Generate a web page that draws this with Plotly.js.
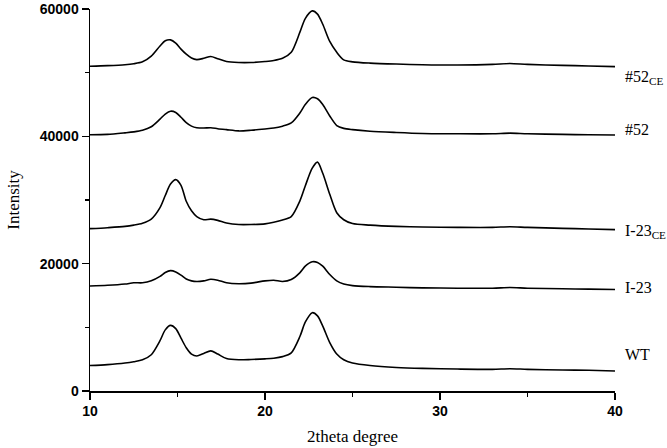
<!DOCTYPE html>
<html>
<head>
<meta charset="utf-8">
<script src="https://cdn.plot.ly/plotly-3.0.1.min.js"></script>
<style>
  html, body { margin: 0; padding: 0; background: #fff; }
  #chart { width: 667px; height: 448px; }
</style>
</head>
<body>
<div id="chart"></div>
<script>
// 2theta positions shared by every pattern
const twoTheta = [10, 11, 12, 12.5, 13, 13.5, 14, 14.3, 14.6, 14.9, 15.2, 15.5, 15.8, 16.1, 16.5, 16.9,
  17.3, 17.8, 18.5, 19.2, 20, 20.5, 21, 21.5, 22, 22.3, 22.7, 23.0, 23.3, 23.7, 24.1, 24.5, 25, 26,
  27.5, 29, 31, 33, 34, 35, 37, 38.5, 40];

const int52CE = [51000, 51100, 51250, 51400, 51700, 52600, 54200, 55000, 55150, 54650, 53700, 52900,
  52300, 52050, 52250, 52550, 52200, 51750, 51600, 51600, 51750, 51900, 52250, 53200, 56400, 58500,
  59700, 59200, 57600, 54900, 53200, 52000, 51700, 51500, 51350, 51250, 51200, 51300, 51450, 51300,
  51150, 51050, 50950];

const int52 = [40250, 40300, 40550, 40700, 40950, 41500, 42700, 43500, 43950, 43750, 43000, 42150,
  41600, 41350, 41300, 41350, 41200, 41050, 40850, 40950, 41150, 41300, 41600, 42100, 43700, 45000,
  46100, 45900, 45000, 43200, 41700, 41250, 41050, 40800, 40600, 40450, 40400, 40400, 40500, 40400,
  40300, 40250, 40200];

const intI23CE = [25500, 25650, 25850, 26050, 26350, 27000, 28800, 30700, 32500, 33200, 32300, 29800,
  28300, 27400, 26900, 27000, 26800, 26400, 26150, 26150, 26250, 26500, 26850, 27400, 29900, 32200,
  35000, 35950, 34200, 30900, 28000, 26900, 26300, 26050, 25850, 25750, 25700, 25700, 25800, 25700,
  25550, 25450, 25350];

const intI23 = [16500, 16600, 16800, 17000, 17000, 17300, 18000, 18600, 18900, 18700, 18200, 17600,
  17300, 17200, 17300, 17550, 17400, 17000, 16850, 16950, 17300, 17400, 17200, 17500, 18600, 19600,
  20300, 20200, 19600, 18300, 17300, 16800, 16550, 16400, 16300, 16200, 16150, 16150, 16250, 16150,
  16050, 16000, 15950];

const intWT = [4000, 4150, 4400, 4600, 4900, 5700, 7900, 9600, 10300, 9800, 8300, 6800,
  5800, 5500, 5900, 6300, 5800, 5100, 4900, 4950, 5050, 5150, 5400, 6000, 8600, 10800,
  12300, 11800, 10200, 7600, 5800, 4900, 4400, 4000, 3700, 3550, 3450, 3400, 3500, 3400,
  3300, 3250, 3150];

const seriesNames = ['#52<sub>CE</sub>', '#52', 'I-23<sub>CE</sub>', 'I-23', 'WT'];
const seriesData = [int52CE, int52, intI23CE, intI23, intWT];
// where each name sits next to the curve end
const labelY = [49300, 41000, 25100, 16200, 5800];

const yTicks = [0, 20000, 40000, 60000];
const xTicks = [10, 20, 30, 40];

const traces = seriesData.map(function (ys, i) {
  return {
    x: twoTheta,
    y: ys,
    type: 'scatter',
    mode: 'lines',
    name: seriesNames[i],
    line: {color: '#000', width: 1.6, shape: 'spline', smoothing: 0.8},
    hoverinfo: 'skip',
  };
});

const annotations = seriesNames.map(function (name, i) {
  return {
    x: 40, y: labelY[i], xref: 'x', yref: 'y',
    text: name, showarrow: false, xanchor: 'left', xshift: 8,
    font: {family: 'Liberation Serif, Times New Roman, serif', size: 16, color: '#000'},
  };
});

const tickFont = {family: 'Liberation Sans, Arial, sans-serif', size: 14, color: '#000', weight: 'bold'};
const titleFont = {family: 'Liberation Serif, Times New Roman, serif', size: 17, color: '#000'};

const layout = {
  width: 667,
  height: 448,
  margin: {l: 90, r: 52, t: 9, b: 57},
  paper_bgcolor: '#fff',
  plot_bgcolor: '#fff',
  showlegend: false,
  xaxis: {
    range: [10, 40],
    tickmode: 'array',
    tickvals: xTicks,
    showgrid: false,
    zeroline: false,
    showline: true,
    linecolor: '#000',
    linewidth: 1.5,
    ticks: 'outside',
    ticklen: 7,
    tickwidth: 1.5,
    tickcolor: '#000',
    minor: {ticks: 'outside', dtick: 5, ticklen: 4, tickwidth: 1.5, tickcolor: '#000'},
    tickfont: tickFont,
    title: {text: '2theta degree', font: titleFont, standoff: 12},
  },
  yaxis: {
    range: [0, 60000],
    tickmode: 'array',
    tickvals: yTicks,
    tickformat: 'd',
    ticklabeloverflow: 'allow',
    showgrid: false,
    zeroline: false,
    showline: true,
    linecolor: '#000',
    linewidth: 1.5,
    ticks: 'outside',
    ticklen: 7,
    tickwidth: 1.5,
    tickcolor: '#000',
    minor: {ticks: 'outside', dtick: 10000, ticklen: 4, tickwidth: 1.5, tickcolor: '#000'},
    tickfont: tickFont,
    title: {text: 'Intensity', font: titleFont, standoff: 16},
  },
  annotations: annotations,
};

Plotly.newPlot('chart', traces, layout, {displayModeBar: false, staticPlot: true});
</script>
</body>
</html>
